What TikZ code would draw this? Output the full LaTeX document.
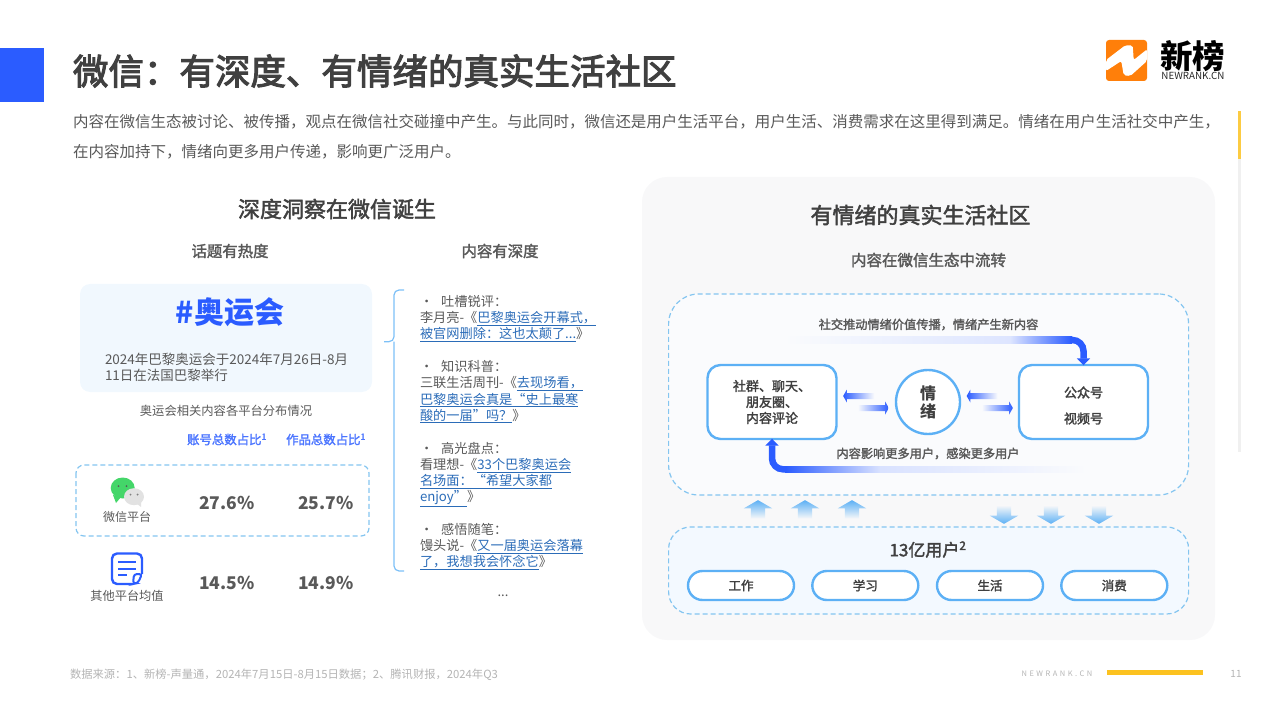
\documentclass[tikz,border=0pt]{standalone}
\usepackage{fontspec}
\setmainfont{Noto Sans CJK SC}
\newfontfamily\midfont[FakeBold=2]{Noto Sans CJK SC}
\newfontfamily\headfont[FakeBold=3]{Noto Sans CJK SC}
\usetikzlibrary{arrows.meta,shapes.arrows}

\definecolor{titlegray}{HTML}{404040}
\definecolor{textgray}{HTML}{595959}
\definecolor{footgray}{HTML}{B4B4B4}
\definecolor{coreblue}{HTML}{2B5CFF}
\definecolor{skyblue}{HTML}{5CB0F5}
\definecolor{dashblue}{HTML}{84C5F0}
\definecolor{linkblue}{HTML}{2B6CB8}
\definecolor{panelgray}{HTML}{F8F8F9}
\definecolor{paleblue}{HTML}{F1F8FE}
\definecolor{loopbg}{HTML}{FAFBFD}
\definecolor{usersbg}{HTML}{F3F9FF}
\definecolor{brandorange}{HTML}{FF7F0A}
\definecolor{baryellow}{HTML}{FCC220}
\definecolor{wxgreen}{HTML}{44D669}
\definecolor{wxgray}{HTML}{E2E2E2}

\newcommand{\sized}[1]{\fontsize{#1}{#1}\selectfont}
\newcommand{\lnk}[1]{\textcolor{linkblue}{\underline{#1}}}
\newcommand{\dou}{\char"FF0C\relax}
\newcommand{\mao}{\char"FF1A\relax}
\newcommand{\fen}{\char"FF1B\relax}
\newcommand{\wen}{\char"FF1F\relax}

\tikzset{
    softbox/.style={draw=skyblue,line width=2.4pt,fill=white,rounded corners=13pt,align=center,text=titlegray},
    pillbox/.style={draw=skyblue,line width=2.4pt,fill=white,rounded corners=14.5pt,minimum width=106pt,minimum height=29pt,text=titlegray,font=\sized{12.5}\midfont},
    dashbox/.style={draw=dashblue,line width=1.2pt,dash pattern=on 5pt off 3pt},
    flowline/.style={draw=coreblue,line width=6.5pt,rounded corners=11pt,-{Triangle[width=13pt,length=7pt]}},
    uptip/.style={single arrow,shape border rotate=90,single arrow head extend=7pt,single arrow tip angle=120,single arrow head indent=0pt,inner sep=7pt,minimum height=17pt,top color=skyblue,bottom color=panelgray,draw=none},
    downtip/.style={single arrow,shape border rotate=270,single arrow head extend=7pt,single arrow tip angle=120,single arrow head indent=0pt,inner sep=7pt,minimum height=17pt,top color=panelgray,bottom color=skyblue,draw=none},
    lefttip/.style={single arrow,shape border rotate=180,single arrow head extend=3.5pt,single arrow tip angle=120,single arrow head indent=0pt,inner sep=2.8pt,minimum height=31pt,left color=coreblue,right color=loopbg,draw=none},
    righttip/.style={single arrow,single arrow head extend=3.5pt,single arrow tip angle=120,single arrow head indent=0pt,inner sep=2.8pt,minimum height=31pt,left color=loopbg,right color=coreblue,draw=none}
}

\begin{document}
\begin{tikzpicture}[x=1pt,y=-1pt]
    \useasboundingbox (0,0) rectangle (1280,719);

    % page furniture
    \fill[coreblue] (0,48) rectangle (44,102);
    \fill[baryellow!85!white] (1238,111) rectangle (1241,159);
    \fill[black!6] (1238,159) rectangle (1241,452);
    \fill[baryellow] (1107,670) rectangle (1203,675);
    \fill[panelgray] (642,177) [rounded corners=25pt] rectangle (1215,640);

    % logo
    \fill[brandorange,rounded corners=3pt] (1106,40) rectangle (1147,81);
    \fill[white,rounded corners=2pt] (1106,60) -- (1125.3,45.3) -- (1132.7,45.3) -- (1133.7,60) -- (1147,49.3) -- (1147,61) -- (1130.3,76) -- (1123.7,75.3) -- (1121.3,61) -- (1106,71) -- cycle;

    \begin{scope}[every node/.style={inner sep=0pt,outer sep=0pt}]
        \node[anchor=west,text=titlegray,font=\sized{35.5}\headfont] (pagetitle) at (73,71) {微信\mao 有深度、有情绪的真实生活社区};
        \node[anchor=north west,align=left,text=textgray,font=\fontsize{15.5}{30}\selectfont] (intro) at (73,114) {内容在微信生态被讨论、被传播\dou 观点在微信社交碰撞中产生。与此同时\dou 微信还是用户生活平台\dou 用户生活、消费需求在这里得到满足。情绪在用户生活社交中产生\dou\\在内容加持下\dou 情绪向更多用户传递\dou 影响更广泛用户。};
        \node[text=black,font=\sized{32.5}\bfseries] (brandname) at (1192.5,56) {新榜};
        \node[text=black!85,font=\sized{9.8}] (brandurl) at (1193,76) {NEWRANK.CN};
        \node[anchor=west,text=footgray,font=\sized{11.3}] (source) at (70,675) {数据来源\mao 1、新榜-声量通\dou 2024年7月15日-8月15日数据\fen 2、腾讯财报\dou 2024年Q3};
        \node[text=footgray,font=\sized{7.5}] (footurl) at (1057,673.5) {N\,\,E\,\,W\,\,R\,\,A\,\,N\,\,K\,\,.\,\,C\,\,N};
        \node[text=footgray,font=\sized{10}] (pageno) at (1236,673.5) {11};
    \end{scope}

    % left column
    \fill[paleblue,rounded corners=10pt] (80,284) rectangle (372,392);
    \draw[dashbox,rounded corners=8pt] (76,465) rectangle (369,536);
    \draw[skyblue!80!white,line width=1.2pt,rounded corners=5pt] (404,290) -- (394,290) -- (394,341.7) -- (384,341.7);
    \draw[skyblue!80!white,line width=1.2pt,rounded corners=5pt] (404,571) -- (394,571) -- (394,341.7);

    \begin{scope}[every node/.style={inner sep=0pt,outer sep=0pt,text=textgray}]
        \node[font=\sized{22}\midfont,text=titlegray] (deeptitle) at (337,209) {深度洞察在微信诞生};
        \node[font=\sized{15.4}\midfont] (hothead) at (230,251) {话题有热度};
        \node[font=\sized{15.4}\midfont] (deephead) at (500,251) {内容有深度};
        \node[font=\sized{30}\bfseries,text=coreblue] (hashtag) at (230,312) {\#奥运会};
        \node[anchor=north west,align=left,font=\fontsize{13.5}{16}\selectfont] (olympics) at (105,353) {2024年巴黎奥运会于2024年7月26日-8月\\11日在法国巴黎举行};
        \node[font=\sized{12.3}] (spread) at (226,410.5) {奥运会相关内容各平台分布情况};
        \node[font=\sized{12.4}\midfont,text=coreblue!85!white] (acct) at (227,439.5) {账号总数占比\textsuperscript{1}};
        \node[font=\sized{12.4}\midfont,text=coreblue!85!white] (works) at (326,439.5) {作品总数占比\textsuperscript{1}};
        \node[font=\sized{12}] (wxlabel) at (127,516.5) {微信平台};
        \node[font=\sized{12.2}] (otherlabel) at (127,596) {其他平台均值};
        \node[font=\sized{17.5}\bfseries] (wxacct) at (227,503) {27.6\%};
        \node[font=\sized{17.5}\bfseries] (wxworks) at (326,503) {25.7\%};
        \node[font=\sized{17.5}\bfseries] (otheracct) at (227,583) {14.5\%};
        \node[font=\sized{17.5}\bfseries] (otherworks) at (326,583) {14.9\%};
    \end{scope}

    % platform icons
    \fill[wxgreen] (113,495) -- (116,503) -- (121,497) -- cycle;
    \fill[wxgreen] (122.7,488) ellipse (12pt and 10.5pt);
    \fill[wxgray] (134,496.7) ellipse (10pt and 8.5pt);
    \fill[wxgray] (136,503) -- (141,507) -- (141,500) -- cycle;
    \fill[black!65] (118.5,486) circle (1pt) (126.5,486) circle (1pt);
    \fill[black!50] (130.5,494.5) circle (1pt) (137.5,494.5) circle (1pt);
    \draw[coreblue,line width=2.4pt,rounded corners=5pt] (133,584) -- (112,584) -- (112,553.5) -- (142,553.5) -- (142,574);
    \draw[coreblue,line width=2pt,rounded corners=3pt] (142,574) -- (134,574) -- (133,584) -- (138,583) -- cycle;
    \draw[coreblue,line width=2pt] (118,562) -- (136,562) (118,568.5) -- (136,568.5) (118,575) -- (127,575);

    % article list
    \begin{scope}[every node/.style={anchor=north west,inner sep=0pt,outer sep=0pt,align=left,text=textgray,font=\fontsize{13.2}{16.2}\selectfont}]
        \node (tucao) at (420,295.5) {•\hspace{8pt}吐槽锐评\mao\\李月亮-《\lnk{巴黎奥运会开幕式\dou}\\\lnk{被官网删除\mao 这也太颠了...}》};
        \node (kepu) at (420,360.5) {•\hspace{8pt}知识科普\mao\\三联生活周刊-《\lnk{去现场看\dou}\\\lnk{巴黎奥运会真是“史上最寒}\\\lnk{酸的一届”吗\wen}》};
        \node (gaoguang) at (420,442) {•\hspace{8pt}高光盘点\mao\\看理想-《\lnk{33个巴黎奥运会}\\\lnk{名场面\mao “希望大家都}\\\lnk{enjoy”}》};
        \node (ganwu) at (420,523) {•\hspace{8pt}感悟随笔\mao\\馒头说-《\lnk{又一届奥运会落幕}\\\lnk{了\dou 我想我会怀念它}》};
    \end{scope}
    \node[text=textgray,font=\sized{13}] (more) at (503,596) {...};

    % right panel
    \node[dashbox,fill=loopbg,rounded corners=30pt,minimum width=520pt,minimum height=201pt] (loopzone) at (928.6,394.5) {};
    \node[dashbox,fill=usersbg,rounded corners=22pt,minimum width=520pt,minimum height=87pt] (userzone) at (928.6,570.5) {};

    \node[softbox,minimum width=129pt,minimum height=74pt,font=\fontsize{13}{16}\selectfont\midfont] (socialbox) at (772,402) {社群、聊天、\\朋友圈、\\内容评论};
    \node[softbox,minimum width=129pt,minimum height=74pt,font=\fontsize{13}{26}\selectfont\midfont] (mediabox) at (1083.5,402) {\rule{0pt}{18pt}公众号\\视频号};
    \node[circle,draw=skyblue,line width=2.4pt,fill=white,minimum size=64pt,inner sep=0pt,align=center,text=titlegray,font=\fontsize{16}{18}\selectfont\bfseries] (mood) at (928,402) {情\\绪};

    \begin{scope}[every node/.style={inner sep=0pt,outer sep=0pt,text=textgray}]
        \node[font=\sized{22}\midfont,text=titlegray] (righttitle) at (920.5,215) {有情绪的真实生活社区};
        \node[font=\sized{15.5}\midfont] (rightsub) at (928.5,260) {内容在微信生态中流转};
        \node[font=\sized{12.2}\midfont] (pushlabel) at (928.5,324.5) {社交推动情绪价值传播\dou 情绪产生新内容};
        \node[font=\sized{12.2}\midfont] (reachlabel) at (928,453.5) {内容影响更多用户\dou 感染更多用户};
        \node[font=\sized{17}\midfont,text=titlegray] (users) at (928,549.5) {13亿用户\textsuperscript{2}};
    \end{scope}

    \node[pillbox] (work) at (741,585.5) {工作};
    \node[pillbox] (study) at (865.3,585.5) {学习};
    \node[pillbox] (life) at (990,585.5) {生活};
    \node[pillbox] (spend) at (1114.3,585.5) {消费};

    % long flows
    \shade[left color=loopbg,right color=coreblue!16!white] (784,336.7) rectangle (1010,343.3);
    \shade[left color=coreblue!16!white,right color=coreblue] (1010,336.7) rectangle (1072,343.3);
    \coordinate (pushstart) at (1070,340);
    \draw[flowline] (pushstart) -| ([yshift=-1.5pt]mediabox.north);
    \shade[left color=coreblue,right color=coreblue!18!white] (785,466) rectangle (880,472.6);
    \shade[left color=coreblue!18!white,right color=loopbg] (880,466) rectangle (1087,472.6);
    \coordinate (reachstart) at (787,469.3);
    \draw[flowline] (reachstart) -| ([yshift=1.5pt]socialbox.south);

    % short arrows
    \node[lefttip] (socialback) at (859.5,396) {};
    \node[righttip] (socialout) at (872.5,408) {};
    \node[lefttip] (mediaback) at (983,396) {};
    \node[righttip] (mediaout) at (996.5,408) {};

    \node[uptip] (upa) at (758,511.5) {};
    \node[uptip] (upb) at (805,511.5) {};
    \node[uptip] (upc) at (852,511.5) {};
    \node[downtip] (downa) at (1004,512.5) {};
    \node[downtip] (downb) at (1051,512.5) {};
    \node[downtip] (downc) at (1099,512.5) {};
\end{tikzpicture}
\end{document}
